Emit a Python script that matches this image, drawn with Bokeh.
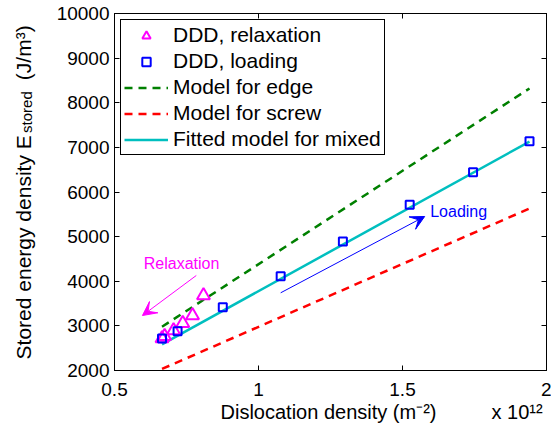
from bokeh.plotting import figure
from bokeh.models import (Range1d, FixedTicker, LinearAxis, Legend, LegendItem,
                          Label, Arrow, VeeHead)
from bokeh.embed import file_html
from bokeh.resources import INLINE

# Dislocation density in units of 1e12 m^-2, stored energy density in J/m^3
relax_rho = [0.809, 0.771, 0.737, 0.705, 0.674, 0.665]
relax_energy = [3680, 3232, 3060, 2896, 2765, 2715]

load_rho = [0.665, 0.719, 0.876, 1.077, 1.293, 1.525, 1.745, 1.941]
load_energy = [2717, 2880, 3418, 4113, 4890, 5713, 6443, 7138]

model_rho = [0.665, 1.941]
edge_energy = [2980, 8320]
screw_energy = [2035, 5630]
mixed_energy = [2585, 7130]

x_ticks = [0.5, 1, 1.5, 2]
y_ticks = [2000, 3000, 4000, 5000, 6000, 7000, 8000, 9000, 10000]

# annotation arrows (start and end, data units)
relax_arrow_x = [0.784, 0.597]
relax_arrow_y = [4129, 3232]
load_arrow_x = [1.077, 1.577]
load_arrow_y = [3741, 5451]

FONT = "Liberation Sans"
GREEN = "#008000"
RED = "#FF0000"
CYAN = "#00BFBF"
MAGENTA = "#FF00FF"
BLUE = "#0000FF"

p = figure(width=551, height=428, output_backend="svg", toolbar_location=None,
           x_range=Range1d(0.5, 2.0), y_range=Range1d(2000, 10000),
           min_border_left=114, min_border_right=5, min_border_top=13,
           min_border_bottom=58)
p.xgrid.visible = False
p.ygrid.visible = False
p.outline_line_color = "black"
p.outline_line_alpha = 1.0
p.outline_line_width = 1
p.background_fill_color = "white"
p.border_fill_color = "white"


def style_axis(ax, ticks, show_labels):
    ax.ticker = FixedTicker(ticks=ticks, minor_ticks=[])
    ax.major_tick_in = 5
    ax.major_tick_out = 0
    ax.minor_tick_in = 0
    ax.minor_tick_out = 0
    ax.axis_line_color = "black"
    ax.major_tick_line_color = "black"
    ax.major_label_text_font = FONT
    ax.major_label_text_font_size = "19px"
    ax.major_label_text_color = "black"
    if not show_labels:
        ax.major_label_overrides = {t: "" for t in ticks}
        ax.major_label_standoff = 0


def title_axis(ax, positions, texts, size, standoff):
    # an axis without line or ticks, used only to set title text pieces
    ax.ticker = FixedTicker(ticks=positions, minor_ticks=[])
    ax.major_label_overrides = dict(zip(positions, texts))
    ax.axis_line_color = None
    ax.major_tick_line_color = None
    ax.minor_tick_line_color = None
    ax.major_tick_in = 0
    ax.major_tick_out = 0
    ax.minor_tick_in = 0
    ax.minor_tick_out = 0
    ax.major_label_standoff = standoff
    ax.major_label_text_font = FONT
    ax.major_label_text_font_size = size
    ax.major_label_text_color = "black"


style_axis(p.xaxis[0], x_ticks, True)
p.xaxis[0].major_label_standoff = 12
style_axis(p.yaxis[0], y_ticks, True)
p.yaxis[0].major_label_standoff = 5

top_axis = LinearAxis()
style_axis(top_axis, x_ticks, False)
p.add_layout(top_axis, "above")
right_axis = LinearAxis()
style_axis(right_axis, y_ticks, False)
p.add_layout(right_axis, "right")

# x title and scale exponent
x_title = LinearAxis()
title_axis(x_title, [1.243, 1.898],
           ["Dislocation density (m\u207b\u00b2)", "x 10\u00b9\u00b2"],
           "20px", 2)
p.add_layout(x_title, "below")

# y title: subscript row next to the tick labels, main text further out
y_sub = LinearAxis()
title_axis(y_sub, [7792], ["stored"], "15px", 18)
y_sub.major_label_orientation = "vertical"
p.add_layout(y_sub, "left")
y_title = LinearAxis()
title_axis(y_title, [4760, 9120],
           ["Stored energy density E", "(J/m\u00b3)"], "21px", -20)
y_title.major_label_orientation = "vertical"
p.add_layout(y_title, "left")

# model curves
edge = p.line(model_rho, edge_energy, line_color=GREEN, line_width=2.5,
              line_dash="8 6")
screw = p.line(model_rho, screw_energy, line_color=RED, line_width=2.5,
               line_dash="8 6")
mixed = p.line(model_rho, mixed_energy, line_color=CYAN, line_width=2.5)

# DDD results
relax = p.scatter(relax_rho, relax_energy, marker="triangle", size=13,
                  fill_color=None, line_color=MAGENTA, line_width=2)
load = p.scatter(load_rho, load_energy, marker="square", size=8,
                 fill_color=None, line_color=BLUE, line_width=2)

legend = Legend(items=[
    LegendItem(label="DDD, relaxation", renderers=[relax]),
    LegendItem(label="DDD, loading", renderers=[load]),
    LegendItem(label="Model for edge", renderers=[edge]),
    LegendItem(label="Model for screw", renderers=[screw]),
    LegendItem(label="Fitted model for mixed", renderers=[mixed]),
], location="top_left")
legend.margin = 6
legend.padding = 3
legend.spacing = 2
legend.glyph_width = 44
legend.glyph_height = 21
legend.label_height = 21
legend.label_standoff = 5
legend.label_text_font = FONT
legend.label_text_font_size = "21px"
legend.label_text_color = "black"
legend.border_line_color = "black"
legend.border_line_width = 1
legend.border_line_alpha = 1.0
legend.background_fill_color = "white"
legend.background_fill_alpha = 1.0
p.add_layout(legend)

# arrows and their captions
p.add_layout(Arrow(x_start=relax_arrow_x[0], y_start=relax_arrow_y[0],
                   x_end=relax_arrow_x[1], y_end=relax_arrow_y[1],
                   line_color=MAGENTA, line_width=1,
                   end=VeeHead(size=14, fill_color=MAGENTA, line_color=MAGENTA)))
p.add_layout(Arrow(x_start=load_arrow_x[0], y_start=load_arrow_y[0],
                   x_end=load_arrow_x[1], y_end=load_arrow_y[1],
                   line_color=BLUE, line_width=1,
                   end=VeeHead(size=14, fill_color=BLUE, line_color=BLUE)))
p.add_layout(Label(x=0.733, y=4397, text="Relaxation", text_align="center",
                   text_baseline="middle", text_font=FONT,
                   text_font_size="16px", text_color=MAGENTA))
p.add_layout(Label(x=1.695, y=5563, text="Loading", text_align="center",
                   text_baseline="middle", text_font=FONT,
                   text_font_size="16px", text_color=BLUE))

open("out.html", "w").write(file_html(p, INLINE))
